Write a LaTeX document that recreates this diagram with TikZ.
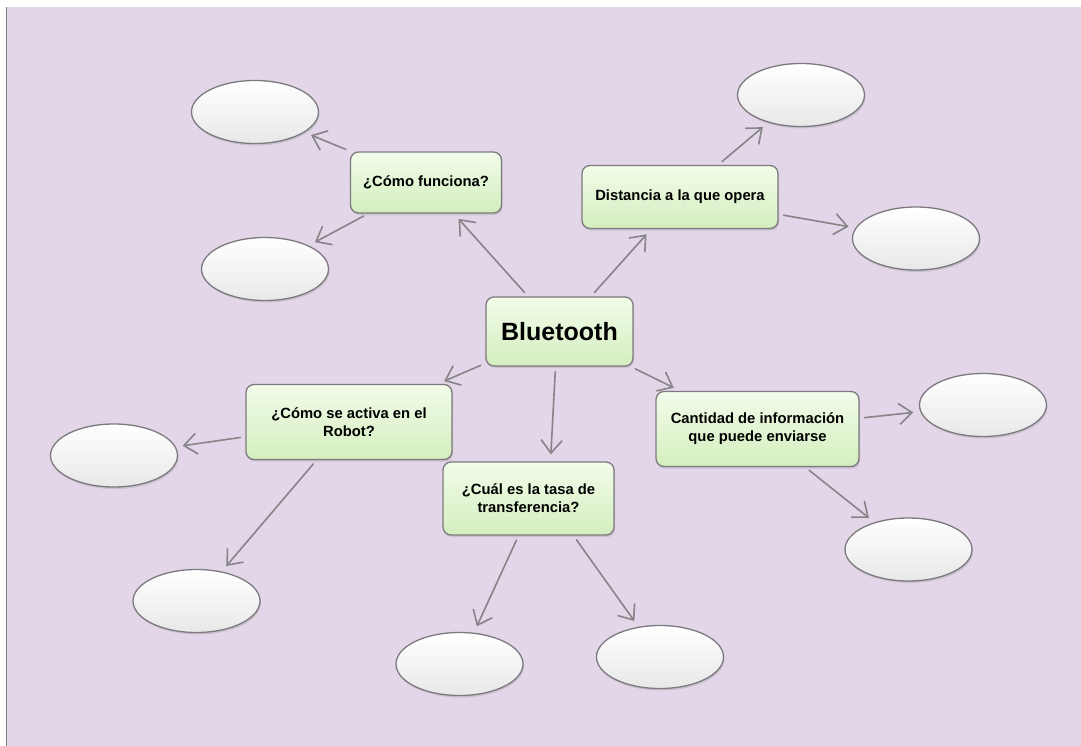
\documentclass[tikz,border=0pt]{standalone}
\usepackage{fontspec}
\setmainfont{Liberation Sans}
\usetikzlibrary{arrows.meta,shapes.geometric,shadows}
\definecolor{fondo}{HTML}{E2D6E8}
\definecolor{borde}{HTML}{7C7A7E}
\definecolor{flechagris}{HTML}{878488}
\definecolor{verdearriba}{HTML}{F2FCEA}
\definecolor{verdeabajo}{HTML}{D4EEBE}
\begin{document}
\begin{tikzpicture}[x=1pt,y=-1pt,
  caja/.style={draw=borde,line width=1.3pt,rounded corners=8pt,top color=verdearriba,bottom color=verdeabajo,
    align=center,inner sep=0pt,font=\bfseries\fontsize{14.8}{18}\selectfont,
    drop shadow={opacity=.25,shadow xshift=1pt,shadow yshift=-2pt}},
  hueco/.style={ellipse,draw=borde,line width=1.3pt,top color=white,bottom color=black!9,inner sep=0pt,
    minimum width=127pt,minimum height=63pt,
    drop shadow={opacity=.25,shadow xshift=1pt,shadow yshift=-2pt}},
  flecha/.style={draw=flechagris,line width=1.6pt,line cap=round,
    -{Straight Barb[length=13pt,width=21pt]},shorten <=5pt,shorten >=7pt}]
\useasboundingbox (0,0) rectangle (1081,746);
\fill[white] (0,0) rectangle (1081,746);
\fill[fondo] (7,7) rectangle (1081,746);
\draw[gray,line width=1pt] (6.5,7) -- (6.5,746);

\node[caja,minimum width=147pt,minimum height=69pt,font=\bfseries\fontsize{25}{30}\selectfont] (blue) at (559.5,331.5) {Bluetooth};
\node[caja,minimum width=151pt,minimum height=61pt] (funciona) at (426,182.5) {¿Cómo funciona?};
\node[caja,minimum width=196pt,minimum height=63pt] (distancia) at (680,197) {Distancia a la que opera};
\node[caja,minimum width=206pt,minimum height=75pt] (activa) at (349,422) {¿Cómo se activa en el\\Robot?};
\node[caja,minimum width=171pt,minimum height=73pt] (cual) at (528.5,498.5) {¿Cuál es la tasa de\\transferencia?};
\node[caja,minimum width=203pt,minimum height=75pt] (cantidad) at (757.5,429) {Cantidad de información\\que puede enviarse};

\node[hueco] (h1) at (255,112) {};
\node[hueco] (h2) at (265,269) {};
\node[hueco] (h3) at (801,95) {};
\node[hueco] (h4) at (916,238.5) {};
\node[hueco] (h5) at (114,455.5) {};
\node[hueco] (h6) at (196.5,601) {};
\node[hueco] (h7) at (459.5,664) {};
\node[hueco] (h8) at (660,657) {};
\node[hueco] (h9) at (983,405) {};
\node[hueco] (h10) at (908.5,549.5) {};

\draw[flecha] (blue) -- (funciona);
\draw[flecha] (blue) -- (distancia);
\draw[flecha] (blue) -- (activa);
\draw[flecha] ([xshift=-4pt]blue.south) -- ([xshift=22pt]cual.north);
\draw[flecha] (blue) -- (cantidad);
\draw[flecha] (funciona) -- (h1);
\draw[flecha] (funciona) -- (h2);
\draw[flecha] (distancia) -- (h3);
\draw[flecha] (distancia) -- (h4);
\draw[flecha] (activa) -- (h5);
\draw[flecha] (activa) -- (h6);
\draw[flecha] ([xshift=-10pt]cual.south) -- (h7);
\draw[flecha] ([xshift=45pt]cual.south) -- (h8);
\draw[flecha] (cantidad) -- (h9);
\draw[flecha] (cantidad) -- (h10);
\end{tikzpicture}
\end{document}
